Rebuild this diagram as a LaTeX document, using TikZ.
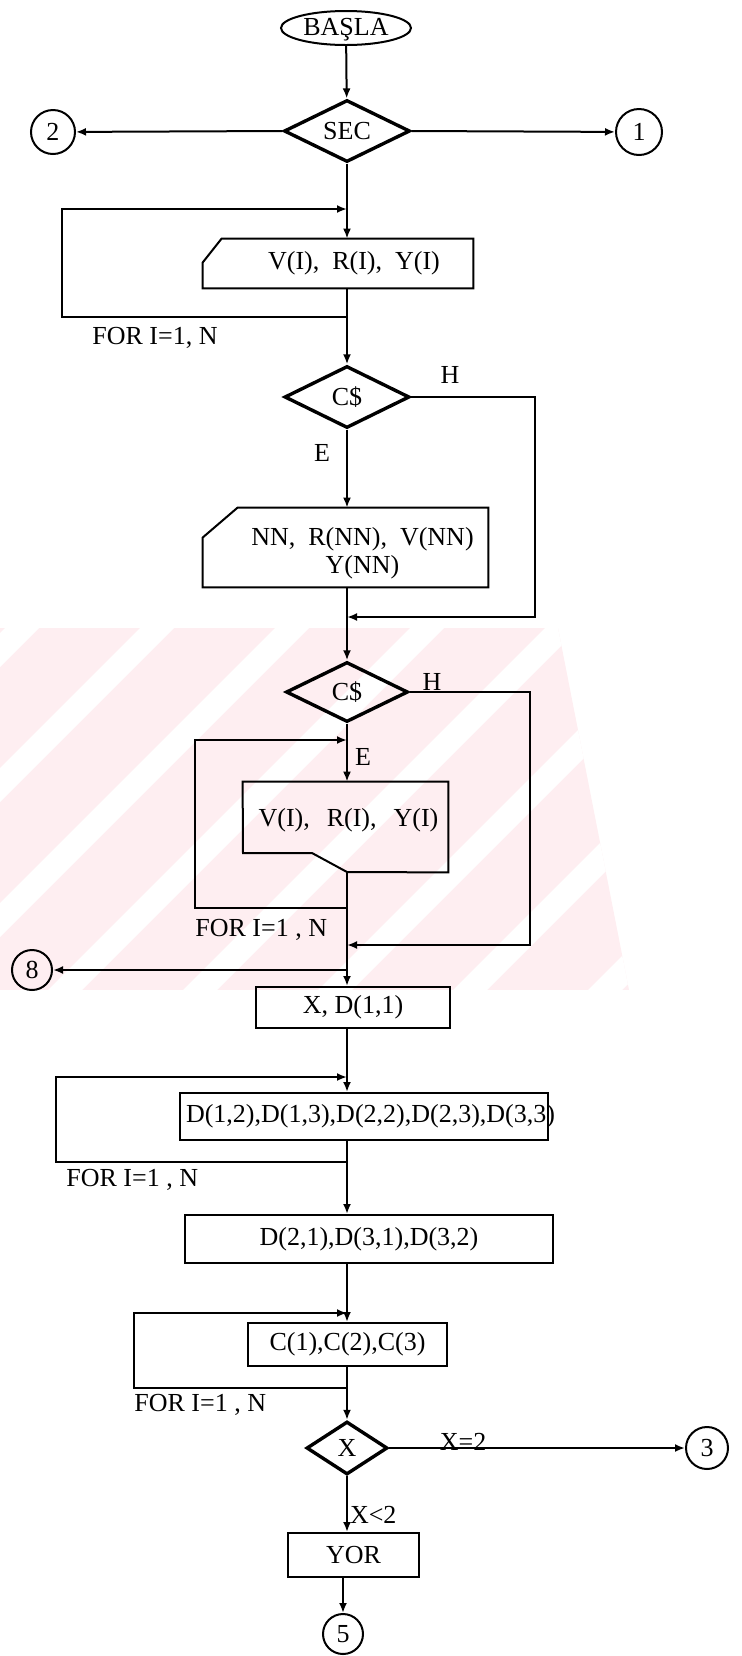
\documentclass[tikz,border=0pt]{standalone}
\usepackage{fontspec}
\setmainfont{Liberation Serif}
\usepackage{tikz}
\usetikzlibrary{shapes.geometric,arrows.meta}

\definecolor{wmark}{RGB}{254,238,241}
\tikzset{
  flow/.style={line width=1pt},
  arr/.style={flow,-{Latex[length=5pt,width=4pt]}},
  box/.style={draw,rectangle,line width=1pt,inner sep=0pt},
  iobox/.style={rectangle,inner sep=0pt},
  dec/.style={draw,diamond,aspect=2,line width=1.7pt,inner sep=0pt},
  conn/.style={draw,circle,line width=1pt,minimum size=20pt,inner sep=0pt},
  term/.style={draw,ellipse,line width=1pt,inner sep=0pt},
  lbl/.style={inner sep=0pt},
}

\begin{document}
\begin{tikzpicture}[x=0.5pt,y=-0.5pt,font=\fontsize{13}{14}\selectfont]
  \useasboundingbox (0,0) rectangle (742,1656);
  % watermark band
  \begin{scope}
    \clip (0,628) -- (558,628) -- (629,990) -- (0,990) -- cycle;
    \fill[wmark] (0,628) rectangle (742,990);
    \foreach \gx in {5,140,275,410,545,680,815,950}
      \fill[white] (\gx,628) -- (\gx+34,628) -- (\gx-328,990) -- (\gx-362,990) -- cycle;
  \end{scope}

  % Define nodes
  \node[term, minimum width=65pt, minimum height=17pt, text height=8.5pt, text depth=1pt] (basla) at (346,28) {BAŞLA};
  \node[dec, minimum width=63pt, minimum height=31pt] (sec) at (347,131) {SEC};
  \node[conn, minimum size=22pt] (c2) at (53,132) {2};
  \node[conn, minimum size=23pt] (c1) at (639,132) {1};
  \node[iobox, minimum width=135pt, minimum height=24.5pt,
    label={[xshift=8pt]center:V(I),\hspace{6.5pt}R(I),\hspace{6.5pt}Y(I)}] (inp1) at (338,263.5) {};
  \node[dec, minimum width=62.5pt, minimum height=31pt] (cs1) at (347,397) {C\$};
  \node[iobox, minimum width=142.5pt, minimum height=39.5pt,
    label={[xshift=8.5pt,yshift=-3pt,align=center]center:NN,\hspace{6.5pt}R(NN),\hspace{6.5pt}V(NN)\\Y(NN)}] (nn) at (345.5,547.5) {};
  \node[dec, minimum width=61pt, minimum height=30pt] (cs2) at (347,692) {C\$};
  \node[iobox, minimum width=102.5pt, minimum height=45pt,
    label={[xshift=1.5pt,yshift=3.5pt]center:V(I),\hspace{8.5pt}R(I),\hspace{8.5pt}Y(I)}] (inp2) at (345.5,827) {};
  \node[conn] (c8) at (32,970) {8};
  \node[box, minimum width=97pt, minimum height=20.5pt] (xd) at (353,1007.5) {X, D(1,1)};
  \node[box, minimum width=184pt, minimum height=23.5pt,
    label={[anchor=west]west:D(1,2),D(1,3),D(2,2),D(2,3),D(3,3)}] (dbox1) at (364,1116.5) {};
  \node[box, minimum width=184pt, minimum height=24pt] (dbox2) at (369,1239) {D(2,1),D(3,1),D(3,2)};
  \node[box, minimum width=99.5pt, minimum height=21.5pt] (cbox) at (347.5,1344.5) {C(1),C(2),C(3)};
  \node[dec, minimum width=40.5pt, minimum height=26.5pt] (xdia) at (347,1448) {X};
  \node[conn, minimum size=21pt] (c3) at (707,1448) {3};
  \node[box, minimum width=65.5pt, minimum height=22pt] (yor) at (353.5,1555) {YOR};
  \node[conn] (c5) at (343,1634) {5};

  % input outlines
  \draw[flow] ([xshift=9.5pt]inp1.north west) -- (inp1.north east) -- (inp1.south east)
    -- (inp1.south west) -- ([yshift=-12pt]inp1.north west) -- cycle;
  \draw[flow] ([xshift=17.5pt]nn.north west) -- (nn.north east) -- (nn.south east)
    -- (nn.south west) -- ([yshift=-15pt]nn.north west) -- cycle;
  \coordinate (n2) at (347,872);
  \draw[flow] (inp2.north west) -- (inp2.north east) -- (inp2.south east)
    -- (n2) -- (312,853) -- (243,853) -- cycle;

  % loop corners
  \coordinate (l1t) at (62,209);  \coordinate (l1b) at (62,317);
  \coordinate (l2t) at (195,740); \coordinate (l2b) at (195,908);
  \coordinate (l3t) at (56,1077); \coordinate (l3b) at (56,1162);
  \coordinate (l4t) at (134,1313); \coordinate (l4b) at (134,1388);
  \coordinate (h1) at (535,617);
  \coordinate (h2) at (530,945);

  % Edges
  \draw[arr] (basla) -- (sec);
  \draw[arr] (sec.west) -- (c2);
  \draw[arr] (sec.east) -- (c1);
  \draw[arr] (sec.south) -- (sec.south |- inp1.north);
  \draw[arr] (inp1.south -| sec.south) |- (l1b) -- (l1t) -- (l1t -| sec.south);
  \draw[arr] (inp1.south -| sec.south) -- (cs1.north);
  \draw[arr] (cs1.east) -| (h1) -- (h1 -| cs1.south);
  \draw[arr] (cs1.south) -- (cs1.south |- nn.north);
  \draw[arr] (nn.south -| cs1.south) -- (cs2.north);
  \draw[arr] (cs2.east) -| (h2) -- (h2 -| cs2.south);
  \draw[arr] (cs2.south) -- (cs2.south |- inp2.north);
  \draw[arr] (n2) |- (l2b) -- (l2t) -- (l2t -| n2);
  \draw[arr] (n2) -- (n2 |- xd.north);
  \draw[arr] (n2 |- c8) -- (c8);
  \draw[arr] (xd.south -| n2) -- (n2 |- dbox1.north);
  \draw[arr] (dbox1.south -| n2) |- (l3b) -- (l3t) -- (l3t -| n2);
  \draw[arr] (dbox1.south -| n2) -- (n2 |- dbox2.north);
  \draw[arr] (dbox2.south -| n2) -- (n2 |- cbox.north);
  \draw[arr] (cbox.south -| n2) |- (l4b) -- (l4t) -- (l4t -| n2);
  \draw[arr] (cbox.south -| n2) -- (xdia.north);
  \draw[arr] (xdia.east) -- (c3) node[lbl, pos=0.25, yshift=3pt] {X=2};
  \draw[arr] (xdia.south) -- (xdia.south |- yor.north) node[lbl, pos=0.7, right=1pt] {X<2};
  \draw[arr] (c5 |- yor.south) -- (c5);

  % Labels
  \node[lbl, anchor=west] (for1) at (92,338) {FOR I=1, N};
  \node[lbl, anchor=west] (for2) at (195,930) {FOR I=1 , N};
  \node[lbl, anchor=west] (for3) at (66,1180) {FOR I=1 , N};
  \node[lbl, anchor=west] (for4) at (134,1405) {FOR I=1 , N};
  \node[lbl] (hl1) at (450,375) {H};
  \node[lbl] (el1) at (322,453) {E};
  \node[lbl] (hl2) at (432,682) {H};
  \node[lbl] (el2) at (363,757) {E};
\end{tikzpicture}
\end{document}
